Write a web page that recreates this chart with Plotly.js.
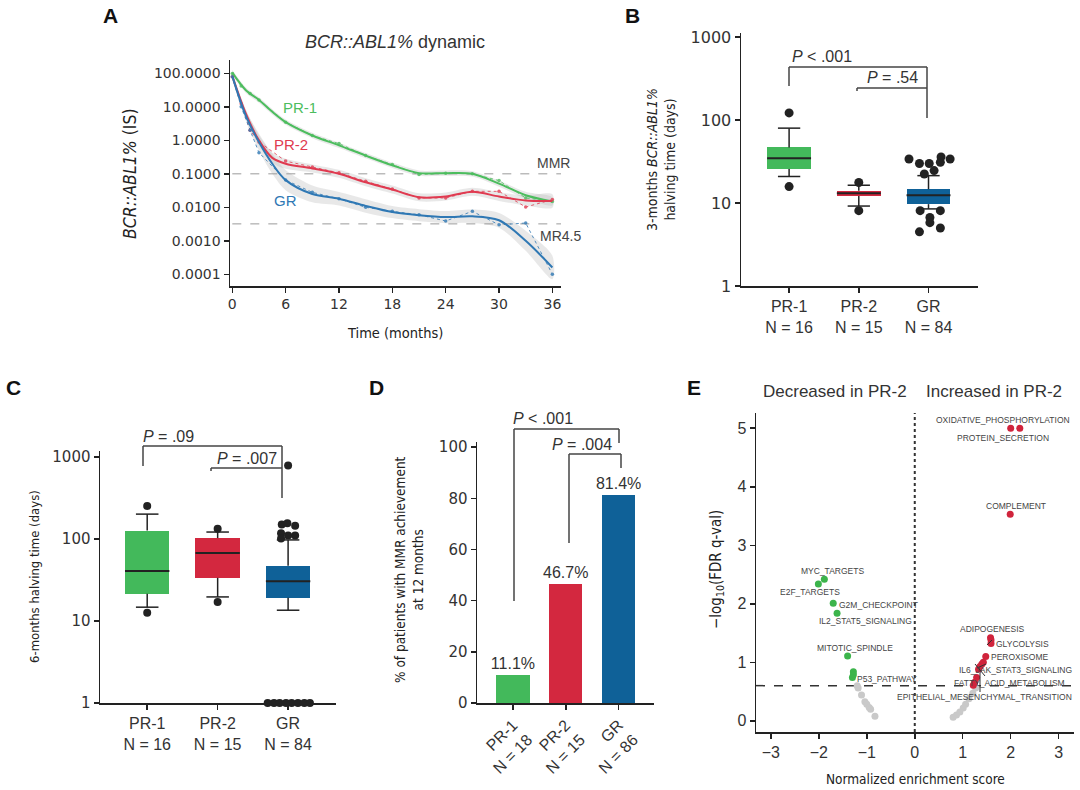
<!DOCTYPE html>
<html>
<head>
<meta charset="utf-8">
<script src="https://cdn.plot.ly/plotly-3.0.1.min.js"></script>
<style>
  html, body { margin: 0; padding: 0; background: #fff; }
  #fig { width: 1080px; height: 790px; }
</style>
</head>
<body>
<div id="fig"></div>
<script>
// ---- colours / fonts ----
const GREEN = '#43b95b';
const RED = '#d3283f';
const BLUE = '#0f6198';
const LINE_GREEN = '#4cbd5e';
const LINE_RED = '#e03a50';
const LINE_BLUE = '#2f78b4';
const INK = '#222';
const FONT = 'Liberation Sans, Arial, sans-serif';
const DIGITS = 'DejaVu Sans, Liberation Sans, sans-serif';
const NARROW = 'DejaVu Sans Condensed, Liberation Sans Narrow, Liberation Sans, sans-serif';

// ---- panel A: BCR::ABL1% dynamic ----
const monthsSmooth = [0, 1.5, 3, 4.5, 6, 9, 12, 15, 18, 21, 24, 27, 30, 33, 36];
const pr1Smooth = [105, 32, 16, 7.1, 3.5, 1.4, 0.71, 0.35, 0.18, 0.105, 0.105, 0.1, 0.051, 0.023, 0.015];
const pr2Smooth = [83, 6.5, 1.0, 0.3, 0.2, 0.145, 0.1, 0.056, 0.034, 0.02, 0.021, 0.029, 0.021, 0.016, 0.0155];
const grSmooth = [83, 5.6, 0.89, 0.2, 0.065, 0.025, 0.018, 0.011, 0.0072, 0.0058, 0.0051, 0.0054, 0.0041, 0.001, 0.00016];
// half-width of the grey confidence band, in decades
const pr1Band = [0.08, 0.08, 0.08, 0.08, 0.08, 0.08, 0.08, 0.08, 0.08, 0.08, 0.08, 0.08, 0.09, 0.1, 0.12];
const pr2Band = [0.1, 0.12, 0.15, 0.15, 0.15, 0.12, 0.12, 0.12, 0.12, 0.12, 0.12, 0.12, 0.13, 0.15, 0.2];
const grBand = [0.1, 0.15, 0.25, 0.3, 0.3, 0.25, 0.2, 0.2, 0.18, 0.18, 0.18, 0.2, 0.22, 0.3, 0.35];

const monthsRaw = [0, 1, 2, 3, 6, 9, 12, 15, 18, 21, 24, 27, 30, 33, 36];
const pr1Raw = [100, 42, 25, 16, 3.5, 1.4, 0.8, 0.35, 0.19, 0.095, 0.105, 0.1, 0.063, 0.019, 0.015];
const pr2Raw = [80, 12.5, 2.0, 0.9, 0.24, 0.16, 0.107, 0.06, 0.035, 0.019, 0.019, 0.03, 0.03, 0.0102, 0.017];
const grRaw = [80, 10, 2.0, 0.43, 0.065, 0.028, 0.018, 0.01, 0.0076, 0.006, 0.0039, 0.0076, 0.003, 0.0034, 0.0001];

const thresholds = [0.1, 0.0032];          // MMR, MR4.5
const thresholdNames = ['MMR', 'MR4.5'];
const aTickVals = [100, 10, 1, 0.1, 0.01, 0.001, 0.0001];
const aTickText = ['100.0000', '10.0000', '1.0000', '0.1000', '0.0100', '0.0010', '0.0001'];

// ---- panel B: 3-month halving time (days) ----
const bTicks = ['PR-1<br>N = 16', 'PR-2<br>N = 15', 'GR<br>N = 84'];
const bQ1 = [25.8, 12.2, 9.7];
const bMed = [34.7, 13.1, 12.4];
const bQ3 = [46.8, 14.1, 14.7];
const bLo = [20.9, 9.2, 8.5];
const bHi = [80, 16.4, 21.4];
const bOutX = [0, 0, 1, 1, 1.72, 1.87, 2.01, 2.17, 2.18, 2.31, 1.94, 2.08, 1.88, 2.17, 2.02, 2.02, 2.17, 1.87];
const bOutY = [122, 15.8, 17.7, 8.1, 34, 30, 30, 31, 36, 34, 22.4, 24.6, 8.1, 8.1, 6.7, 5.8, 5.0, 4.5];

// ---- panel C: 6-month halving time (days) ----
const cTicks = ['PR-1<br>N = 16', 'PR-2<br>N = 15', 'GR<br>N = 84'];
const cQ1 = [21.4, 33.5, 19.1];
const cMed = [40.7, 67, 30.5];
const cQ3 = [126, 102, 46.9];
const cLo = [14.7, 19.6, 13.5];
const cHi = [200, 121, 97];
const cOutX = [0, 0, 1, 1, 2.0, 1.91, 1.99, 2.10, 1.90, 2.0, 2.10, 1.90,
               1.71, 1.80, 1.88, 1.97, 2.05, 2.14, 2.23, 2.31];
const cOutY = [251, 12.6, 133, 17, 785, 149, 155, 144, 117, 110, 110, 101,
               1, 1, 1, 1, 1, 1, 1, 1];

// ---- panel D: % MMR at 12 months ----
const dTicks = ['PR-1<br>N = 18', 'PR-2<br>N = 15', 'GR<br>N = 86'];
const dPct = [11.1, 46.7, 81.4];

// ---- panel E: GSEA volcano ----
const eRedX = [2.0, 2.19, 1.99, 1.58, 1.59, 1.59, 1.48, 1.43, 1.40, 1.36, 1.33, 1.29, 1.25, 1.22];
const eRedY = [5.0, 5.0, 3.53, 1.42, 1.38, 1.32, 1.10, 1.00, 0.97, 0.93, 0.88, 0.74, 0.66, 0.61];
const eGreenX = [-1.885, -2.01, -1.70, -1.62, -1.40, -1.28, -1.28, -1.30];
const eGreenY = [2.42, 2.34, 2.01, 1.84, 1.11, 0.84, 0.79, 0.74];
const eGreyX = [-1.2, -1.18, -1.11, -1.04, -1.0, -0.95, -0.92, -0.83, 0.80, 0.87, 0.94, 1.01, 1.06, 1.13, 1.21, 1.27];
const eGreyY = [0.6, 0.56, 0.44, 0.325, 0.285, 0.23, 0.2, 0.08, 0.06, 0.1, 0.15, 0.22, 0.285, 0.38, 0.47, 0.56];
const eFdrCut = 0.602;   // -log10(0.25)

// ---- helpers: pixel -> paper (margins are 0) ----
const W = 1080, H = 790;
const px = x => x / W;
const py = y => 1 - y / H;
const dom = (a, b) => [px(a), px(b)];
const vdom = (top, bottom) => [py(bottom), py(top)];

function bandTrace(xs, ys, hw, xa, ya) {
  const up = ys.map((v, i) => v * Math.pow(10, hw[i]));
  const lo = ys.map((v, i) => v / Math.pow(10, hw[i]));
  return {
    type: 'scatter', mode: 'lines', xaxis: xa, yaxis: ya,
    x: xs.concat(xs.slice().reverse()),
    y: up.concat(lo.slice().reverse()),
    fill: 'toself', fillcolor: 'rgba(190,190,190,0.35)',
    line: { width: 0, shape: 'spline', smoothing: 0.8 }, hoverinfo: 'skip'
  };
}
function smoothTrace(xs, ys, color) {
  return {
    type: 'scatter', mode: 'lines', x: xs, y: ys, xaxis: 'x', yaxis: 'y',
    line: { color, width: 2, shape: 'spline', smoothing: 0.9 }
  };
}
function rawTrace(xs, ys, color) {
  return {
    type: 'scatter', mode: 'lines+markers', x: xs, y: ys, xaxis: 'x', yaxis: 'y',
    line: { color, width: 1, dash: 'dot' }, opacity: 0.8,
    marker: { color, size: 3.5 }
  };
}

const BOX_W = 0.63, CAP = 0.16;
function boxTraces(q1, med, q3, lo, hi, colors, xa, ya) {
  const out = [];
  out.push({
    type: 'bar', x: [0, 1, 2], base: q1, y: q3.map((v, i) => v - q1[i]),
    width: BOX_W, xaxis: xa, yaxis: ya,
    marker: { color: colors, line: { width: 0 } }
  });
  const wx = [], wy = [], mx = [], my = [];
  q1.forEach((_, i) => {
    wx.push(i, i, null, i, i, null, i - CAP, i + CAP, null, i - CAP, i + CAP, null);
    wy.push(q3[i], hi[i], null, lo[i], q1[i], null, hi[i], hi[i], null, lo[i], lo[i], null);
    mx.push(i - BOX_W / 2, i + BOX_W / 2, null);
    my.push(med[i], med[i], null);
  });
  out.push({ type: 'scatter', mode: 'lines', x: wx, y: wy, xaxis: xa, yaxis: ya,
             line: { color: INK, width: 1.5 } });
  out.push({ type: 'scatter', mode: 'lines', x: mx, y: my, xaxis: xa, yaxis: ya,
             line: { color: INK, width: 2 } });
  return out;
}
function outlierTrace(xs, ys, xa, ya, size) {
  return { type: 'scatter', mode: 'markers', x: xs, y: ys, xaxis: xa, yaxis: ya,
           cliponaxis: false, marker: { color: INK, size } };
}

const traces = [
  bandTrace(monthsSmooth, pr1Smooth, pr1Band, 'x', 'y'),
  bandTrace(monthsSmooth, pr2Smooth, pr2Band, 'x', 'y'),
  bandTrace(monthsSmooth, grSmooth, grBand, 'x', 'y'),
  ...thresholds.map(t => ({
    type: 'scatter', mode: 'lines', x: [0, 37], y: [t, t], xaxis: 'x', yaxis: 'y',
    line: { color: '#9a9a9a', width: 1, dash: 'dash' }
  })),
  rawTrace(monthsRaw, pr1Raw, LINE_GREEN),
  rawTrace(monthsRaw, pr2Raw, LINE_RED),
  rawTrace(monthsRaw, grRaw, LINE_BLUE),
  smoothTrace(monthsSmooth, pr1Smooth, LINE_GREEN),
  smoothTrace(monthsSmooth, pr2Smooth, LINE_RED),
  smoothTrace(monthsSmooth, grSmooth, LINE_BLUE),

  ...boxTraces(bQ1, bMed, bQ3, bLo, bHi, [GREEN, RED, BLUE], 'x2', 'y2'),
  outlierTrace(bOutX, bOutY, 'x2', 'y2', 9),

  ...boxTraces(cQ1, cMed, cQ3, cLo, cHi, [GREEN, RED, BLUE], 'x3', 'y3'),
  outlierTrace(cOutX, cOutY, 'x3', 'y3', 8),

  {
    type: 'bar', x: [0, 1, 2], y: dPct, width: 0.63, xaxis: 'x4', yaxis: 'y4',
    marker: { color: [GREEN, RED, BLUE], line: { width: 0 } },
    text: dPct.map(v => v.toFixed(1) + '%'), textposition: 'outside',
    constraintext: 'none', cliponaxis: false,
    textfont: { family: FONT, size: 16, color: '#333' }
  },

  { type: 'scatter', mode: 'lines', x: [0, 0], y: [-0.19, 5.26], xaxis: 'x5', yaxis: 'y5',
    line: { color: '#333', width: 2, dash: 'dot' } },
  { type: 'scatter', mode: 'lines', x: [-3.31, 3.32], y: [eFdrCut, eFdrCut], xaxis: 'x5', yaxis: 'y5',
    line: { color: '#333', width: 1.5, dash: 'dash' } },
  { type: 'scatter', mode: 'markers', x: eGreyX, y: eGreyY, xaxis: 'x5', yaxis: 'y5',
    marker: { color: '#c9c9c9', size: 7 } },
  { type: 'scatter', mode: 'markers', x: eGreenX, y: eGreenY, xaxis: 'x5', yaxis: 'y5',
    marker: { color: '#3cb44b', size: 7 } },
  { type: 'scatter', mode: 'markers', x: eRedX, y: eRedY, xaxis: 'x5', yaxis: 'y5',
    marker: { color: '#d0243c', size: 7 } }
];

function axis(extra) {
  return Object.assign({
    showline: true, linewidth: 1.5, linecolor: INK, mirror: false,
    ticks: 'outside', ticklen: 5, tickwidth: 1.5, tickcolor: INK,
    showgrid: false, zeroline: false, fixedrange: true,
    tickfont: { family: FONT, size: 16, color: '#333' }
  }, extra);
}
const digitFont = size => ({ family: DIGITS, size, color: '#333' });

const annotations = [];
function ann(text, x, y, o) {
  annotations.push(Object.assign({
    text, x: px(x), y: py(y), xref: 'paper', yref: 'paper', showarrow: false,
    xanchor: 'center', yanchor: 'middle',
    font: { family: FONT, size: 16, color: '#333' }
  }, o || {}));
}
const bold = { family: FONT, size: 21, color: '#111', weight: 'bold' };
const narrow = size => ({ family: NARROW, size, color: '#222' });
ann('<b>A</b>', 110, 16, { font: bold });
ann('<b>B</b>', 632, 16, { font: bold });
ann('<b>C</b>', 13, 388, { font: bold });
ann('<b>D</b>', 376, 388, { font: bold });
ann('<b>E</b>', 694, 388, { font: bold });

// A texts
ann('<i>BCR::ABL1%</i> dynamic', 395, 42, { font: { family: FONT, size: 18, color: '#333' } });
ann('<i>BCR::ABL1%</i> (IS)', 130, 174, { textangle: -90, font: narrow(17.5) });
ann('Time (months)', 395, 333, { font: narrow(14.5) });
ann('PR-1', 300, 107, { font: { family: FONT, size: 15, color: LINE_GREEN } });
ann('PR-2', 291, 145, { font: { family: FONT, size: 15, color: LINE_RED } });
ann('GR', 285, 200, { font: { family: FONT, size: 15, color: LINE_BLUE } });
ann(thresholdNames[0], 553, 163, { font: { family: FONT, size: 14, color: '#444' } });
ann(thresholdNames[1], 560, 236, { font: { family: FONT, size: 14, color: '#444' } });

// B texts
ann('3-months <i>BCR::ABL1%</i><br>halving time (days)', 661, 160,
    { textangle: -90, font: narrow(14) });
ann('<i>P</i> < .001', 822, 57);
ann('<i>P</i> = .54', 892, 78);

// C texts
ann('6-months halving time (days)', 34, 577, { textangle: -90, font: narrow(13) });
ann('<i>P</i> = .09', 168, 437);
ann('<i>P</i> = .007', 247, 458);

// D texts
ann('% of patients with MMR achievement<br>at 12 months', 409, 570,
    { textangle: -90, font: narrow(13.5) });
ann('<i>P</i> < .001', 543, 418);
ann('<i>P</i> = .004', 582, 444);

// E texts
ann('Decreased in PR-2', 835, 391, { font: { family: FONT, size: 17, color: '#333' } });
ann('Increased in PR-2', 994, 391, { font: { family: FONT, size: 17, color: '#333' } });
ann('\u2212log<sub>10</sub>(FDR q-val)', 716, 570, { textangle: -90, font: narrow(15) });
ann('Normalized enrichment score', 915, 779, { font: narrow(13.5) });
const geneLabels = [
  ['OXIDATIVE_PHOSPHORYLATION', 1003, 420], ['PROTEIN_SECRETION', 1003, 438],
  ['COMPLEMENT', 1016, 506], ['MYC_TARGETS', 832, 571], ['E2F_TARGETS', 810, 592],
  ['G2M_CHECKPOINT', 878, 605], ['IL2_STAT5_SIGNALING', 865, 621],
  ['MITOTIC_SPINDLE', 855, 648], ['P53_PATHWAY', 887, 679],
  ['ADIPOGENESIS', 992, 629], ['GLYCOLYSIS', 1022, 644], ['PEROXISOME', 1019, 657],
  ['IL6_JAK_STAT3_SIGNALING', 1015, 670], ['FATTY_ACID_METABOLISM', 1009, 683],
  ['EPITHELIAL_MESENCHYMAL_TRANSITION', 984, 697]
];
geneLabels.forEach(([t, x, y]) => ann(t, x, y, { font: { family: FONT, size: 8.5, color: '#444' } }));

// significance brackets (pixel positions)
const shapes = [];
function seg(x0, y0, x1, y1, color, width) {
  shapes.push({ type: 'line', xref: 'paper', yref: 'paper',
    x0: px(x0), y0: py(y0), x1: px(x1), y1: py(y1),
    line: { color: color || '#444', width: width || 1.5 } });
}
function bracket(xl, xr, yTop, yLeft, yRight) {
  seg(xl, yTop, xr, yTop); seg(xl, yTop, xl, yLeft); seg(xr, yTop, xr, yRight);
}
bracket(789, 927, 67, 86, 118);
bracket(857, 927, 88, 91, 88);
bracket(143, 282, 446, 466, 498);
bracket(211, 282, 468, 471, 468);
bracket(514, 619, 429, 601, 443);
bracket(569, 621, 454, 543, 468);
// leader lines in E
seg(987, 645, 992, 640, '#333', 1);
seg(977, 668, 986, 664, '#333', 1);
seg(975, 664, 985, 676, '#333', 1);
seg(980, 673, 980, 692, '#333', 1);

const layout = {
  width: W, height: H, margin: { l: 0, r: 0, t: 0, b: 0 },
  paper_bgcolor: '#fff', plot_bgcolor: '#fff', showlegend: false,
  font: { family: FONT, color: '#333' }, bargap: 0,
  xaxis: axis({ domain: dom(230, 561), anchor: 'y', range: [-0.26, 36.97],
                tickvals: [0, 6, 12, 18, 24, 30, 36], tickfont: digitFont(14) }),
  yaxis: axis({ domain: vdom(60, 286), anchor: 'x', type: 'log', range: [-4.35, 2.4],
                tickvals: aTickVals, ticktext: aTickText, tickfont: digitFont(14) }),
  xaxis2: axis({ domain: dom(741, 978), anchor: 'y2', range: [-0.69, 2.71],
                 tickvals: [0, 1, 2], ticktext: bTicks }),
  yaxis2: axis({ domain: vdom(33, 286), anchor: 'x2', type: 'log', range: [0, 3.05],
                 tickvals: [1, 10, 100, 1000], ticktext: ['1', '10', '100', '1000'],
                 tickfont: digitFont(16) }),
  xaxis3: axis({ domain: dom(100, 336), anchor: 'y3', range: [-0.67, 2.68],
                 tickvals: [0, 1, 2], ticktext: cTicks }),
  yaxis3: axis({ domain: vdom(451, 703), anchor: 'x3', type: 'log', range: [0, 3.07],
                 tickvals: [1, 10, 100, 1000], ticktext: ['1', '10', '100', '1000'],
                 tickfont: digitFont(15) }),
  xaxis4: axis({ domain: dom(477, 654), anchor: 'y4', range: [-0.68, 2.67],
                 tickvals: [0, 1, 2], ticktext: dTicks, tickangle: -45 }),
  yaxis4: axis({ domain: vdom(442, 703), anchor: 'x4', range: [0, 102],
                 tickvals: [0, 20, 40, 60, 80, 100], tickfont: digitFont(15) }),
  xaxis5: axis({ domain: dom(756, 1074), anchor: 'y5', range: [-3.31, 3.32],
                 tickvals: [-3, -2, -1, 0, 1, 2, 3] }),
  yaxis5: axis({ domain: vdom(413, 732), anchor: 'x5', range: [-0.19, 5.26],
                 tickvals: [0, 1, 2, 3, 4, 5] }),
  annotations, shapes
};

Plotly.newPlot('fig', traces, layout, { staticPlot: true, displayModeBar: false });
</script>
</body>
</html>
